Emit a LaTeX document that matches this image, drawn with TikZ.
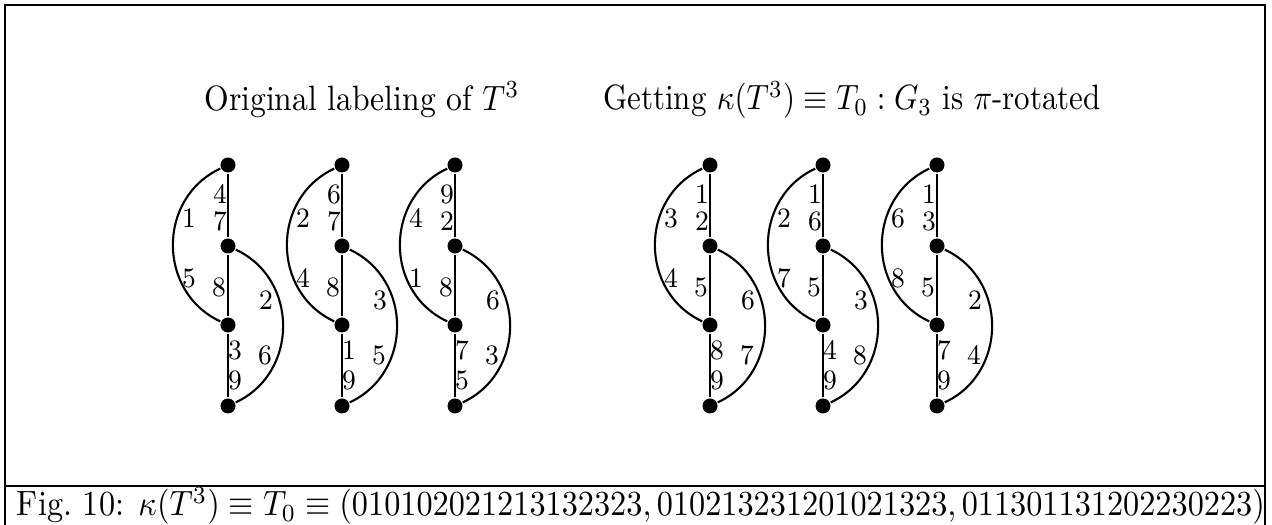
\documentclass[tikz,border=0pt]{standalone}
\usepackage{amsmath,amssymb}
\usepackage{tikz}
\tikzset{dot/.style={circle,fill=black,inner sep=0pt,minimum size=0.15cm},
         lbl/.style={inner sep=0pt,font=\footnotesize,xscale=0.92,transform shape},
         squeeze/.style={xscale=#1,transform shape},
         frame/.style={line width=0.8pt}}

\begin{document}
\begin{tikzpicture}[x=0.01cm,y=-0.01cm,line width=0.6pt]
\useasboundingbox (0,0) rectangle (1272,525);
% frame and caption rule
\draw[frame] (5,525) -- (5,5) -- (1265,5) -- (1265,525);
\draw[frame] (5,486) -- (1265,486);
\node[squeeze=0.9] (hl) at (362,100) {Original labeling of $T^3$};
\node[squeeze=0.88] (hr) at (852,100) {Getting $\kappa(T^3)\equiv T_0 : G_3$ is $\pi$-rotated};
\node[squeeze=0.918,anchor=west,inner sep=0pt] (cap) at (16,506) {Fig.~10: $\kappa(T^3)\equiv T_0\equiv(010102021213132323,010213231201021323,011301131202230223)$};
% the six graphs: x, vertical labels (top pair, middle, bottom pair), left arc pair, right arc pair
\foreach \g/\x/\la/\lb/\lc/\ld/\le/\lf/\lg/\lh/\li in
  {1/228/4/7/8/3/9/1/5/2/6, 2/342/6/7/8/1/9/2/4/3/5, 3/455/9/2/8/7/5/4/1/6/3,
   4/710/1/2/5/8/9/3/4/6/7, 5/823/1/6/5/4/9/2/7/3/8, 6/937/1/3/5/7/9/6/8/2/4}{
  \node[dot] (v\g a) at (\x,165) {};
  \node[dot] (v\g b) at (\x,246) {};
  \node[dot] (v\g c) at (\x,325) {};
  \node[dot] (v\g d) at (\x,406) {};
  \draw (v\g a) -- (v\g b) -- (v\g c) -- (v\g d);
  \draw (v\g a) to[bend right=65,looseness=1.17] (v\g c);
  \draw (v\g b) to[bend left=65,looseness=1.17] (v\g d);
  \node[lbl] (t\g a) at (\x-8,194) {\la};
  \node[lbl] (t\g b) at (\x-8,221) {\lb};
  \node[lbl] (t\g c) at (\x-9,287) {\lc};
  \node[lbl] (t\g d) at (\x+7,350) {\ld};
  \node[lbl] (t\g e) at (\x+7,380) {\le};
  \node[lbl] (t\g f) at (\x-39,218) {\lf};
  \node[lbl] (t\g g) at (\x-39,278) {\lg};
  \node[lbl] (t\g h) at (\x+38,300) {\lh};
  \node[lbl] (t\g i) at (\x+37,355) {\li};
}
\end{tikzpicture}
\end{document}
